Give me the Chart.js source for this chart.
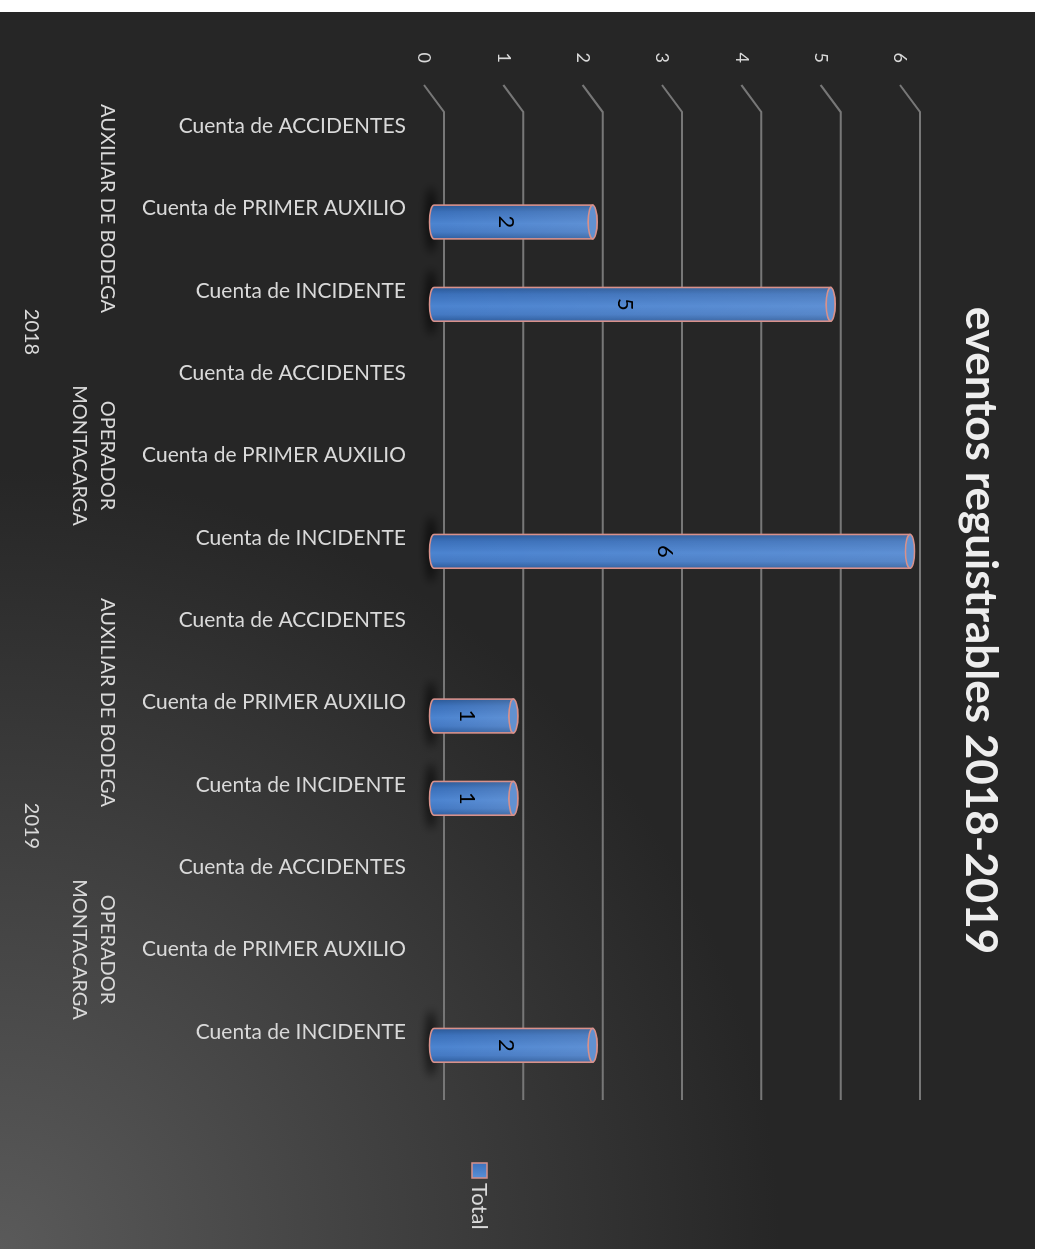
<!DOCTYPE html>
<html lang="es">
<head>
    <meta charset="UTF-8">
    <title>eventos reguistrables 2018-2019</title>
    <script src="https://cdn.jsdelivr.net/npm/chart.js"></script>
    <style>
        html, body {
            margin: 0;
            padding: 0;
            background: #fff;
            overflow: hidden;
        }
        .panel {
            position: absolute;
            left: 0;
            top: 12px;
            width: 1035px;
            height: 1237px;
            background: radial-gradient(circle at 0% 100%, #5a5a5a 0px, #262626 780px);
        }
        /* el grafico se dibuja como columnas y se gira 90 grados */
        .chart-box {
            position: absolute;
            left: 1035px;
            top: 0;
            width: 1237px;
            height: 1035px;
            transform-origin: 0 0;
            transform: rotate(90deg);
        }
    </style>
</head>
<body>
    <div class="panel">
        <div class="chart-box"><canvas id="eventosChart"></canvas></div>
    </div>

    <script>
        // datos
        const years = ['2018', '2019'];
        const roles = [['AUXILIAR DE BODEGA'], ['OPERADOR', 'MONTACARGA']];
        const measures = ['Cuenta de ACCIDENTES', 'Cuenta de PRIMER AUXILIO', 'Cuenta de INCIDENTE'];
        const totals = [0, 2, 5, 0, 0, 6, 0, 1, 1, 0, 0, 2];
        const valueTicks = [0, 1, 2, 3, 4, 5, 6];
        const seriesName = 'Total';
        const chartTitle = 'eventos reguistrables 2018-2019';

        const categories = [];
        years.forEach(() => roles.forEach(() => measures.forEach(m => categories.push(m))));

        // efecto 3D: desplazamiento del fondo respecto al frente
        const DEPTH_U = 27, DEPTH_V = -20;
        const TEXT = '#d9d9d9';
        const GRID = '#777777';
        const EDGE = '#d8918b';

        function barFill(ctx, x0, x1) {
            const g = ctx.createLinearGradient(x0, 0, x1, 0);
            g.addColorStop(0, '#2a5896');
            g.addColorStop(0.2, '#3b70ba');
            g.addColorStop(0.55, '#4c84d0');
            g.addColorStop(0.8, '#4479c3');
            g.addColorStop(1, '#2e5d9e');
            return g;
        }

        const decor = {
            id: 'decor',
            beforeDatasetsDraw(chart) {
                const {ctx, chartArea, scales: {y}} = chart;
                ctx.save();
                ctx.strokeStyle = GRID;
                ctx.lineWidth = 2;
                valueTicks.forEach(t => {
                    const v = y.getPixelForValue(t);
                    ctx.beginPath();
                    ctx.moveTo(chartArea.left, v);
                    ctx.lineTo(chartArea.left + DEPTH_U, v + DEPTH_V);
                    ctx.lineTo(chartArea.right + DEPTH_U, v + DEPTH_V);
                    ctx.stroke();
                });
                ctx.restore();
            },
            afterDatasetsDraw(chart) {
                const {ctx} = chart;
                const meta = chart.getDatasetMeta(0);
                const du = DEPTH_U / 2, dv = DEPTH_V / 2;
                meta.data.forEach((el, i) => {
                    if (!totals[i]) return;
                    const cx = el.x + du;
                    const hw = el.width / 2;
                    const top = el.y + dv;
                    const bot = el.base + dv;
                    const ry = 4.5;

                    // sombra
                    ctx.save();
                    ctx.filter = 'blur(5px)';
                    ctx.fillStyle = 'rgba(0,0,0,0.75)';
                    ctx.beginPath();
                    ctx.ellipse(cx - 2, bot + 3, hw + 16, 5, 0, 0, Math.PI * 2);
                    ctx.fill();
                    ctx.restore();

                    // cuerpo del cilindro
                    ctx.save();
                    ctx.beginPath();
                    ctx.moveTo(cx - hw, top);
                    ctx.lineTo(cx - hw, bot);
                    ctx.ellipse(cx, bot, hw, ry, 0, Math.PI, 0, true);
                    ctx.lineTo(cx + hw, top);
                    ctx.closePath();
                    ctx.fillStyle = barFill(ctx, cx - hw, cx + hw);
                    ctx.fill();
                    const shine = ctx.createLinearGradient(0, bot, 0, top);
                    shine.addColorStop(0, 'rgba(255,255,255,0)');
                    shine.addColorStop(1, 'rgba(255,255,255,0.10)');
                    ctx.fillStyle = shine;
                    ctx.fill();
                    ctx.strokeStyle = EDGE;
                    ctx.lineWidth = 1.6;
                    ctx.stroke();

                    // tapa
                    ctx.beginPath();
                    ctx.ellipse(cx, top, hw, ry, 0, 0, Math.PI * 2);
                    ctx.fillStyle = '#6291d0';
                    ctx.fill();
                    ctx.stroke();

                    // etiqueta de valor
                    ctx.fillStyle = '#000';
                    ctx.font = '22px Lato';
                    ctx.textAlign = 'center';
                    ctx.textBaseline = 'middle';
                    ctx.fillText(totals[i], cx, (el.y + el.base) / 2 - 3);
                    ctx.restore();
                });
            },
            afterDraw(chart) {
                const {ctx, scales: {x}} = chart;
                ctx.save();
                ctx.fillStyle = TEXT;
                ctx.textAlign = 'center';
                ctx.textBaseline = 'middle';

                // niveles de categoria: cargo y año
                ctx.font = '20px Lato';
                const per = measures.length;
                let idx = 0;
                years.forEach(yr => {
                    const start = idx;
                    roles.forEach(lines => {
                        const mid = (x.getPixelForTick(idx) + x.getPixelForTick(idx + per - 1)) / 2;
                        lines.forEach((ln, k) => ctx.fillText(ln, mid, 928 + k * 28));
                        idx += per;
                    });
                    const ymid = (x.getPixelForTick(start) + x.getPixelForTick(idx - 1)) / 2;
                    ctx.fillText(yr, ymid, 1004);
                });

                // titulo
                ctx.fillStyle = '#eeeeee';
                ctx.font = 'bold 44px Lato';
                ctx.fillText(chartTitle, chart.width / 2, 55);

                // leyenda
                const lg = ctx.createLinearGradient(1150, 0, 1166, 0);
                lg.addColorStop(0, '#3b70ba');
                lg.addColorStop(1, '#5a8fd6');
                ctx.fillStyle = lg;
                ctx.fillRect(1151, 548, 15, 15);
                ctx.strokeStyle = EDGE;
                ctx.lineWidth = 1.5;
                ctx.strokeRect(1151, 548, 15, 15);
                ctx.fillStyle = TEXT;
                ctx.font = '22px Lato';
                ctx.textAlign = 'left';
                ctx.fillText(seriesName, 1171, 556);
                ctx.restore();
            }
        };

        const config = {
            type: 'bar',
            data: {
                labels: categories,
                datasets: [{
                    label: seriesName,
                    data: totals,
                    backgroundColor: 'rgba(0,0,0,0)',
                    borderWidth: 0,
                    categoryPercentage: 1,
                    barPercentage: 0.41
                }]
            },
            options: {
                responsive: true,
                maintainAspectRatio: false,
                animation: false,
                layout: {
                    padding: {top: 135, right: 176, bottom: 0, left: 0}
                },
                scales: {
                    x: {
                        grid: {display: false, drawTicks: false},
                        border: {display: false},
                        ticks: {
                            color: TEXT,
                            font: {family: 'Lato', size: 21},
                            minRotation: 90,
                            maxRotation: 90,
                            autoSkip: false,
                            padding: 18
                        },
                        afterFit: s => { s.height = 424; }
                    },
                    y: {
                        min: 0,
                        max: 6,
                        grid: {display: false, drawTicks: false},
                        border: {display: false},
                        ticks: {
                            color: TEXT,
                            font: {family: 'Lato', size: 18},
                            padding: 22
                        },
                        afterBuildTicks: s => { s.ticks = valueTicks.map(v => ({value: v})); },
                        afterFit: s => { s.width = 73; }
                    }
                },
                plugins: {
                    legend: {display: false},
                    title: {display: false},
                    tooltip: {enabled: false}
                }
            },
            plugins: [decor]
        };

        new Chart(document.getElementById('eventosChart'), config);
    </script>
</body>
</html>
